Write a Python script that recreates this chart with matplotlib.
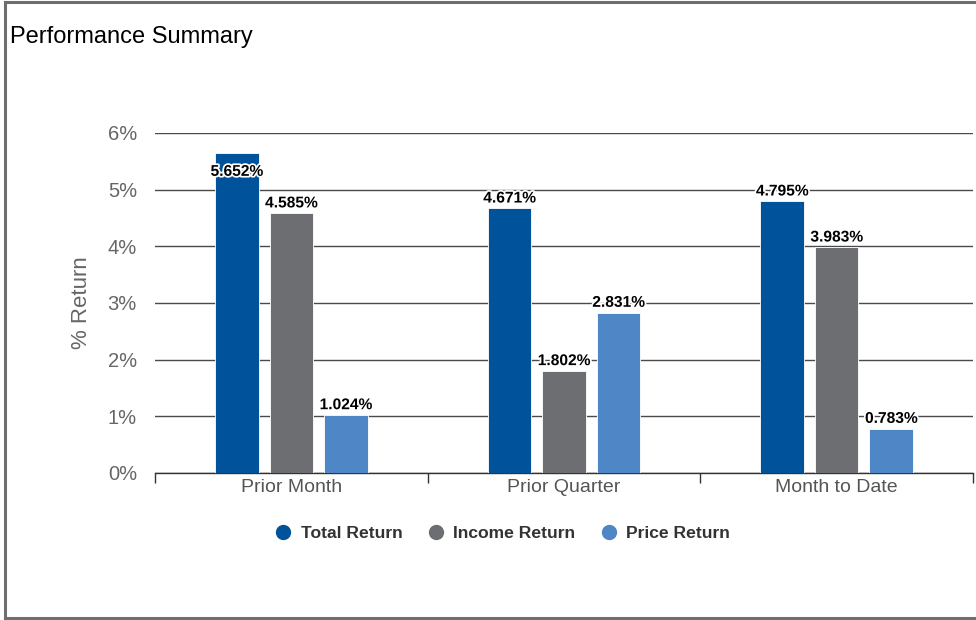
import numpy as np
import matplotlib.pyplot as plt
import matplotlib.patheffects as pe
from matplotlib.lines import Line2D

plt.rcParams['font.family'] = ['Liberation Sans', 'DejaVu Sans']

# data
categories = ['Prior Month', 'Prior Quarter', 'Month to Date']
series_names = ['Total Return', 'Income Return', 'Price Return']
total_return = [5.652, 4.671, 4.795]
income_return = [4.585, 1.802, 3.983]
price_return = [1.024, 2.831, 0.783]
y_ticks = [0, 1, 2, 3, 4, 5, 6]

colors = ['#00539b', '#6d6e71', '#4f86c6']


def main():
    fig = plt.figure(figsize=(9.76, 6.2), dpi=100)
    ax = fig.add_axes([155 / 976, 1 - 473 / 620, 818 / 976, 340 / 620])

    x = np.arange(len(categories))
    width = 0.16
    offsets = [-0.2, 0.0, 0.2]
    all_series = [total_return, income_return, price_return]

    for vals, off, col in zip(all_series, offsets, colors):
        bars = ax.bar(x + off, vals, width=width, color=col, edgecolor='white',
                      linewidth=0.6, zorder=3)
        for b, v in zip(bars, vals):
            cx = b.get_x() + b.get_width() / 2
            # label gets pushed inside the bar when it's near the top
            if v > 5.5:
                dy, va = -8, 'top'
            else:
                dy, va = 2, 'bottom'
            ax.annotate(f'{v:.3f}%', (cx, v), xytext=(0, dy), textcoords='offset points',
                        ha='center', va=va, fontsize=11.2, fontweight='bold', color='black',
                        zorder=5,
                        path_effects=[pe.withStroke(linewidth=2.5, foreground='white')])

    ax.set_xlim(-0.5, len(categories) - 0.5)
    ax.set_ylim(0, 6)
    ax.set_yticks(y_ticks)
    ax.set_yticklabels([f'{t}%' for t in y_ticks])
    ax.yaxis.grid(True, color='#4a4a4a', linewidth=1, zorder=0)
    ax.set_axisbelow(True)
    ax.tick_params(axis='y', length=0, labelsize=14.5, labelcolor='#666666', pad=13)

    # category labels centered, ticks on the boundaries
    ax.set_xticks(x)
    ax.set_xticklabels(categories)
    ax.tick_params(axis='x', length=0, labelsize=14, labelcolor='#555555', pad=4)
    ax.set_xticks(np.arange(-0.5, len(categories)), minor=True)
    ax.tick_params(axis='x', which='minor', length=7, color='#333333', width=1)

    for s in ['top', 'right', 'left']:
        ax.spines[s].set_visible(False)
    ax.spines['bottom'].set_color('#333333')
    ax.spines['bottom'].set_linewidth(1)

    ax.set_ylabel('% Return', fontsize=16, color='#666666')
    ax.yaxis.set_label_coords(-0.077, 0.5)

    fig.text(10 / 976, 1 - 37 / 620, 'Performance Summary', fontsize=17, color='black',
             ha='left', va='center')

    handles = [Line2D([], [], marker='o', linestyle='none', markersize=10,
                      markerfacecolor=c, markeredgecolor=c) for c in colors]
    fig.legend(handles, series_names, loc='center', bbox_to_anchor=(498 / 976, 1 - 533 / 620),
               ncol=3, frameon=False, handletextpad=0.0, columnspacing=0.9,
               prop={'weight': 'bold', 'size': 12.6}, labelcolor='#333333')

    # outer border (right edge is cut off in the original)
    fig.add_artist(Line2D([5 / 976, 5 / 976], [2 / 620, 1 - 2 / 620], color='#6e6e6e', linewidth=2.2))
    fig.add_artist(Line2D([5 / 976, 1], [1 - 2 / 620, 1 - 2 / 620], color='#6e6e6e', linewidth=2.2))
    fig.add_artist(Line2D([5 / 976, 1], [2 / 620, 2 / 620], color='#6e6e6e', linewidth=2.2))

    fig.savefig('out.png', dpi=100)
    plt.close(fig)


if __name__ == "__main__":
    main()
